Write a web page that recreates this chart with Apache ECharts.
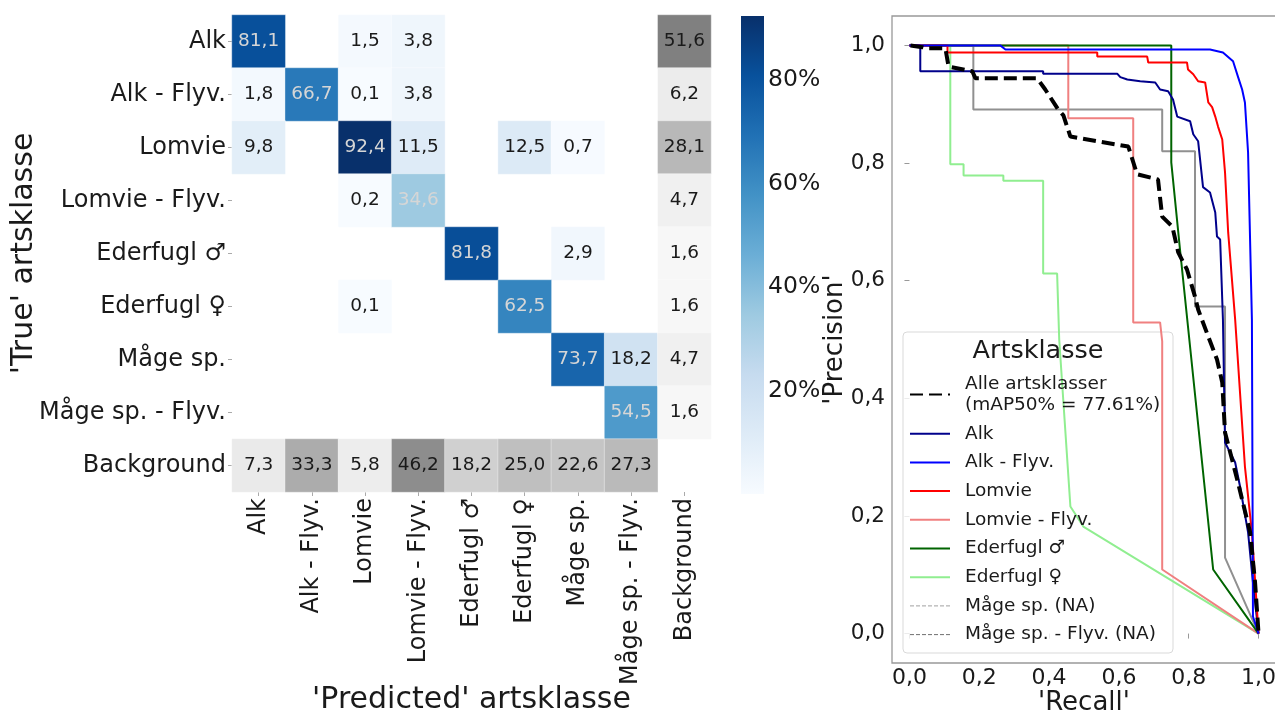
<!DOCTYPE html>
<html>
<head>
<meta charset="utf-8">
<script src="https://cdn.jsdelivr.net/npm/echarts@6/dist/echarts.min.js"></script>
<style>
  html, body { margin: 0; padding: 0; background: #ffffff; }
  #chart { width: 1275px; height: 715px; }
</style>
</head>
<body>
<div id="chart"></div>
<script>
// ---- Confusion matrix (percent), rows = true class, columns = predicted class ----
const classes = ['Alk', 'Alk - Flyv.', 'Lomvie', 'Lomvie - Flyv.', 'Ederfugl ♂', 'Ederfugl ♀', 'Måge sp.', 'Måge sp. - Flyv.', 'Background'];
const rowAlk          = [81.1, null, 1.5, 3.8, null, null, null, null, 51.6];
const rowAlkFlyv      = [1.8, 66.7, 0.1, 3.8, null, null, null, null, 6.2];
const rowLomvie       = [9.8, null, 92.4, 11.5, null, 12.5, 0.7, null, 28.1];
const rowLomvieFlyv   = [null, null, 0.2, 34.6, null, null, null, null, 4.7];
const rowEderfuglHann = [null, null, null, null, 81.8, null, 2.9, null, 1.6];
const rowEderfuglHunn = [null, null, 0.1, null, null, 62.5, null, null, 1.6];
const rowMaage        = [null, null, null, null, null, null, 73.7, 18.2, 4.7];
const rowMaageFlyv    = [null, null, null, null, null, null, null, 54.5, 1.6];
const rowBackground   = [7.3, 33.3, 5.8, 46.2, 18.2, 25.0, 22.6, 27.3, null];
const matrixRows = [rowAlk, rowAlkFlyv, rowLomvie, rowLomvieFlyv, rowEderfuglHann, rowEderfuglHunn, rowMaage, rowMaageFlyv, rowBackground];
const colorbarTicks = [20, 40, 60, 80];

// ---- Precision-recall curves: [recall, precision] ----
const prAlle = [[0.003,1.0],[0.037,0.997],[0.05,0.995],[0.103,0.995],[0.112,0.964],[0.18,0.956],[0.189,0.944],[0.366,0.944],[0.389,0.925],[0.426,0.891],[0.441,0.881],[0.461,0.845],[0.627,0.828],[0.652,0.781],[0.712,0.772],[0.724,0.709],[0.753,0.692],[0.77,0.648],[0.795,0.619],[0.818,0.573],[0.827,0.551],[0.856,0.505],[0.881,0.466],[0.896,0.427],[0.904,0.342],[0.941,0.257],[0.976,0.172],[0.99,0.087],[1.0,0.0]];
const prAlk = [[0,1.0],[0.031,1.0],[0.031,0.956],[0.383,0.956],[0.383,0.952],[0.595,0.952],[0.604,0.946],[0.624,0.942],[0.661,0.939],[0.704,0.937],[0.718,0.925],[0.741,0.922],[0.755,0.908],[0.767,0.879],[0.804,0.871],[0.813,0.849],[0.827,0.837],[0.841,0.759],[0.861,0.75],[0.876,0.716],[0.881,0.675],[0.89,0.67],[0.898,0.534],[0.904,0.325],[0.933,0.291],[0.947,0.25],[0.97,0.172],[0.984,0.087],[1.0,0.0]];
const prAlkFlyv = [[0,1.0],[0.26,1.0],[0.275,0.993],[0.861,0.993],[0.898,0.988],[0.927,0.973],[0.941,0.947],[0.953,0.925],[0.961,0.903],[0.97,0.818],[0.981,0.534],[0.984,0.029],[1.0,0.0]];
const prLomvie = [[0,1.0],[0.109,1.0],[0.109,0.988],[0.538,0.988],[0.538,0.981],[0.681,0.981],[0.684,0.971],[0.795,0.971],[0.798,0.959],[0.813,0.951],[0.827,0.939],[0.847,0.937],[0.856,0.903],[0.867,0.895],[0.876,0.879],[0.884,0.862],[0.896,0.84],[0.904,0.784],[0.913,0.682],[0.933,0.534],[0.961,0.284],[0.981,0.172],[1.0,0.0]];
const prLomvieFlyv = [[0,1.0],[0.455,1.0],[0.455,0.876],[0.641,0.876],[0.641,0.529],[0.718,0.529],[0.724,0.497],[0.724,0.109],[1.0,0.0]];
const prEderfuglHann = [[0,1.0],[0.75,1.0],[0.75,0.801],[0.775,0.653],[0.87,0.109],[1.0,0.0]];
const prEderfuglHunn = [[0,1.0],[0.117,1.0],[0.117,0.798],[0.155,0.798],[0.155,0.779],[0.269,0.779],[0.269,0.77],[0.383,0.77],[0.383,0.612],[0.423,0.612],[0.429,0.5],[0.461,0.216],[0.498,0.182],[1.0,0.0]];
const prMaage = [[0,1.0],[0.183,1.0],[0.183,0.891],[0.724,0.891],[0.724,0.82],[0.818,0.82],[0.818,0.556],[0.904,0.556],[0.904,0.129],[1.0,0.0]];
const prMaageFlyv = [];
const prTicks = [0, 0.2, 0.4, 0.6, 0.8, 1.0];

// ---- Styling ----
const FONT = 'DejaVu Sans';
const TEXT = '#1a1a1a';
const blues = ['#f7fbff', '#deebf7', '#c6dbef', '#9ecae1', '#6baed6', '#4292c6', '#2171b5', '#08519c', '#08306b'];
const greys = ['#fbfbfb', '#808080'];
const fmt = v => v.toFixed(1).replace('.', ',');
const bgIndex = classes.length - 1;

// Split matrix into class cells (blue scale) and background cells (grey scale)
const classCells = [];
const backgroundCells = [];
matrixRows.forEach((row, r) => {
  row.forEach((v, c) => {
    if (v === null) return;
    const isBg = (r === bgIndex || c === bgIndex);
    const item = {
      value: [c, r, v],
      label: { color: (!isBg && v > 30) ? '#d6d6d6' : TEXT }
    };
    (isBg ? backgroundCells : classCells).push(item);
  });
});
let vMin = Infinity, vMax = -Infinity;
classCells.forEach(d => { vMin = Math.min(vMin, d.value[2]); vMax = Math.max(vMax, d.value[2]); });
let bgMax = 0;
backgroundCells.forEach(d => { bgMax = Math.max(bgMax, d.value[2]); });

const hm = { left: 232, top: 15, width: 479, height: 477 };
const cb = { left: 741, top: 16, width: 23, height: 478 };
const pr = { left: 892, top: 16, width: 384, height: 647 };

const heatLabel = {
  show: true,
  formatter: p => fmt(p.value[2]),
  fontFamily: FONT,
  fontSize: 18.5
};

const prLine = (name, data, color, width, extra) => Object.assign({
  name, type: 'line', xAxisIndex: 2, yAxisIndex: 2, data,
  symbol: 'none', silent: true, animation: false,
  lineStyle: { color, width }, itemStyle: { color }
}, extra || {});

const gridBase = { containLabel: false, outerBoundsMode: 'none' };

const option = {
  animation: false,
  textStyle: { fontFamily: FONT, color: TEXT },
  grid: [
    Object.assign({}, gridBase, hm),
    Object.assign({}, gridBase, cb),
    Object.assign({}, gridBase, { show: true, borderColor: '#999999', borderWidth: 1.3, backgroundColor: 'transparent' }, pr)
  ],
  xAxis: [
    {
      gridIndex: 0, type: 'category', data: classes, position: 'bottom',
      name: "'Predicted' artsklasse", nameLocation: 'middle', nameGap: 193, nameMoveOverlap: false,
      nameTextStyle: { fontSize: 30, color: TEXT, fontFamily: FONT },
      axisLine: { show: false },
      axisTick: { show: true, alignWithLabel: true, length: 4, lineStyle: { color: '#aaaaaa' } },
      axisLabel: { interval: 0, rotate: 90, margin: 6, fontSize: 24, color: TEXT, fontFamily: FONT },
      splitLine: { show: false }
    },
    { gridIndex: 1, type: 'value', show: false, min: 0, max: 1 },
    {
      gridIndex: 2, type: 'value', min: -0.05, max: 1.05,
      name: "'Recall'", nameLocation: 'middle', nameGap: 27, nameMoveOverlap: false,
      nameTextStyle: { fontSize: 26, color: TEXT, fontFamily: FONT },
      axisLine: { show: false },
      axisTick: { show: true, length: 5, customValues: prTicks, lineStyle: { color: '#999999' } },
      axisLabel: { customValues: prTicks, formatter: v => fmt(v), fontSize: 22, margin: 4, color: TEXT, fontFamily: FONT },
      splitLine: { show: false }
    }
  ],
  yAxis: [
    {
      gridIndex: 0, type: 'category', data: classes, inverse: true,
      name: "'True' artsklasse", nameLocation: 'middle', nameGap: 193, nameRotate: 90, nameMoveOverlap: false,
      nameTextStyle: { fontSize: 30, color: TEXT, fontFamily: FONT },
      axisLine: { show: false },
      axisTick: { show: true, alignWithLabel: true, length: 4, lineStyle: { color: '#aaaaaa' } },
      axisLabel: { interval: 0, margin: 6, fontSize: 24, color: TEXT, fontFamily: FONT },
      splitLine: { show: false }
    },
    {
      gridIndex: 1, type: 'value', position: 'right', min: vMin, max: vMax,
      axisLine: { show: false },
      axisTick: { show: true, length: 4, customValues: colorbarTicks, lineStyle: { color: '#777777' } },
      axisLabel: { customValues: colorbarTicks, formatter: '{value}%', fontSize: 23.5, margin: 4, color: TEXT, fontFamily: FONT },
      splitLine: { show: false }
    },
    {
      gridIndex: 2, type: 'value', min: -0.05, max: 1.05,
      name: "'Precision'", nameLocation: 'middle', nameGap: 44, nameRotate: 90, nameMoveOverlap: false,
      nameTextStyle: { fontSize: 26, color: TEXT, fontFamily: FONT },
      axisLine: { show: false },
      axisTick: { show: true, length: 5, customValues: prTicks, lineStyle: { color: '#999999' } },
      axisLabel: { customValues: prTicks, formatter: v => fmt(v), fontSize: 21.5, margin: 7, color: TEXT, fontFamily: FONT },
      splitLine: { show: false }
    }
  ],
  visualMap: [
    { type: 'continuous', show: false, seriesIndex: 0, dimension: 2, min: vMin, max: vMax, inRange: { color: blues } },
    { type: 'continuous', show: false, seriesIndex: 1, dimension: 2, min: 0, max: bgMax, inRange: { color: greys } }
  ],
  legend: {
    orient: 'vertical', left: 909, top: 373.5, padding: 0,
    itemWidth: 40, itemHeight: 14, itemGap: 7.7,
    selectedMode: false,
    itemStyle: { opacity: 0 },
    textStyle: { fontFamily: FONT, fontSize: 18.5, lineHeight: 21, color: TEXT, padding: [0, 0, 0, 10] },
    data: [
      { name: 'Alle artsklasser\n(mAP50% = 77.61%)' },
      { name: 'Alk' },
      { name: 'Alk - Flyv.' },
      { name: 'Lomvie' },
      { name: 'Lomvie - Flyv.' },
      { name: 'Ederfugl ♂' },
      { name: 'Ederfugl ♀' },
      { name: 'Måge sp. (NA)', lineStyle: { type: [4, 2], width: 1, color: '#a0a0a0' } },
      { name: 'Måge sp. - Flyv. (NA)', lineStyle: { type: [4, 2], width: 1, color: '#707070' } }
    ]
  },
  graphic: [
    {
      type: 'rect', z: 3, silent: true,
      shape: { x: 903, y: 332, width: 270, height: 321, r: 4 },
      style: { fill: 'rgba(255,255,255,0.8)', stroke: '#d9d9d9', lineWidth: 1 }
    },
    {
      type: 'text', z: 5, silent: true, x: 1038, y: 351,
      style: { text: 'Artsklasse', fontFamily: FONT, fontSize: 25.5, fill: TEXT, align: 'center', verticalAlign: 'middle' }
    },
    {
      // colour bar for the class-cell scale
      type: 'rect', z: 1, silent: true,
      shape: { x: cb.left, y: cb.top, width: cb.width, height: cb.height },
      style: {
        fill: new echarts.graphic.LinearGradient(0, 1, 0, 0,
          blues.map((c, i) => ({ offset: i / (blues.length - 1), color: c })))
      }
    }
  ],
  series: [
    {
      name: 'klasser', type: 'heatmap', xAxisIndex: 0, yAxisIndex: 0,
      data: classCells, label: heatLabel,
      itemStyle: { borderColor: 'rgba(255,255,255,0.45)', borderWidth: 0.8 },
      emphasis: { disabled: true }
    },
    {
      name: 'background', type: 'heatmap', xAxisIndex: 0, yAxisIndex: 0,
      data: backgroundCells, label: heatLabel,
      itemStyle: { borderColor: 'rgba(255,255,255,0.45)', borderWidth: 0.8 },
      emphasis: { disabled: true }
    },
    prLine('Måge sp. (NA)', prMaage, '#909090', 2),
    prLine('Måge sp. - Flyv. (NA)', prMaageFlyv, '#707070', 2),
    prLine('Ederfugl ♀', prEderfuglHunn, '#90ee90', 2),
    prLine('Lomvie - Flyv.', prLomvieFlyv, '#f08080', 2),
    prLine('Ederfugl ♂', prEderfuglHann, '#006400', 2),
    prLine('Alk', prAlk, '#00008b', 2),
    prLine('Lomvie', prLomvie, '#ff0000', 2),
    prLine('Alk - Flyv.', prAlkFlyv, '#0000ff', 2),
    prLine('Alle artsklasser\n(mAP50% = 77.61%)', prAlle, '#000000', 4,
      { lineStyle: { color: '#000000', width: 4, type: [13, 6] } })
  ]
};

const chart = echarts.init(document.getElementById('chart'), null, { renderer: 'canvas' });
chart.setOption(option);
</script>
</body>
</html>
